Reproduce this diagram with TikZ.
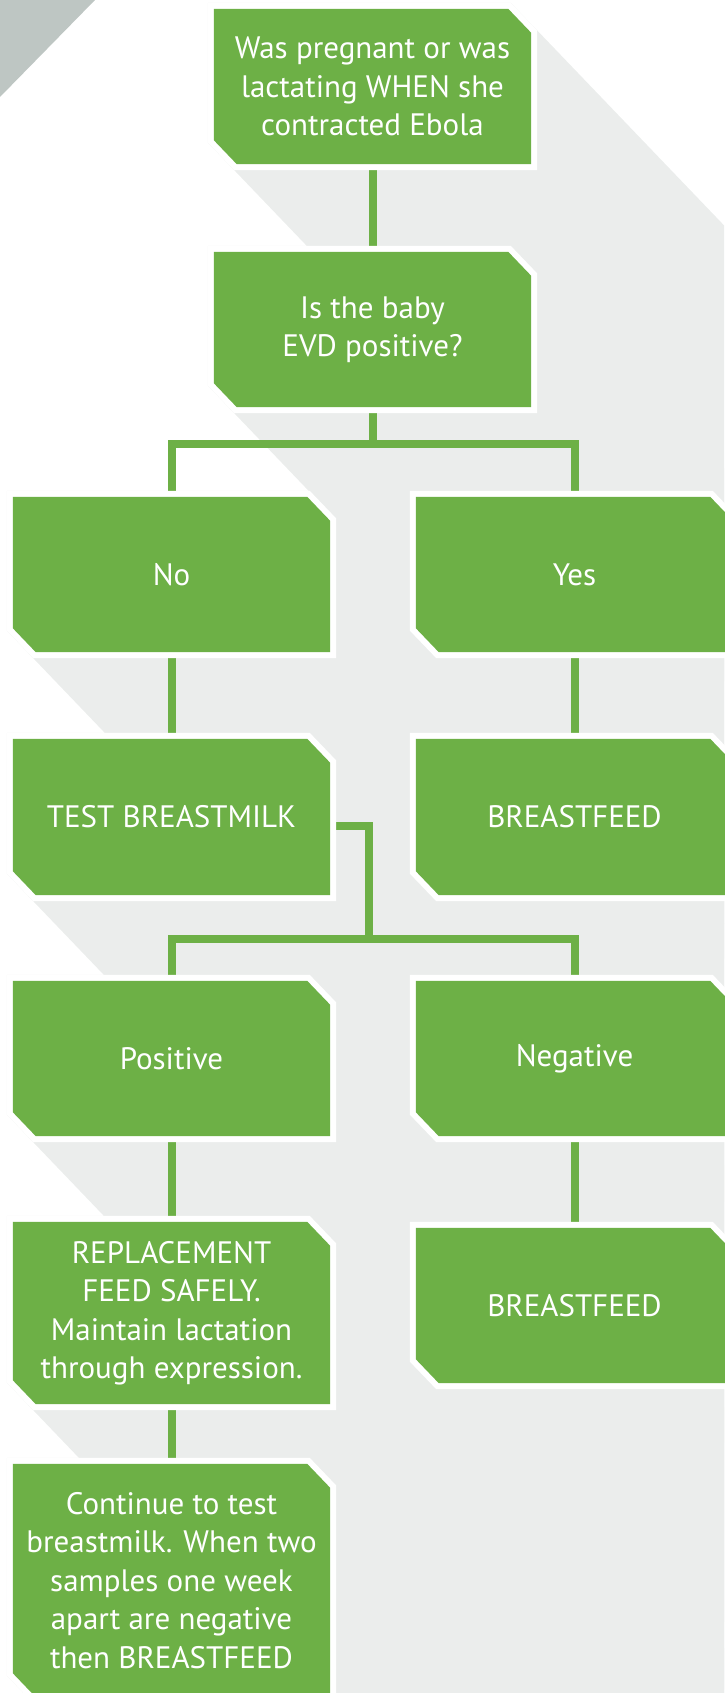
\documentclass[tikz,border=0pt]{standalone}
\usepackage{fontspec}
\setmainfont{PT Sans}
\usetikzlibrary{calc}
\pgfdeclarelayer{background}
\pgfdeclarelayer{lines}
\pgfdeclarelayer{boxes}
\pgfsetlayers{background,lines,boxes,main}
\definecolor{boxgreen}{RGB}{109,176,70}
\definecolor{shadowgray}{RGB}{235,237,236}
\definecolor{cornergray}{RGB}{190,198,195}

\begin{document}
\begin{tikzpicture}[x=1pt,y=-1pt,
  box/.style={minimum width=317pt,minimum height=155pt,inner sep=0pt,align=center,
    text=white,font=\fontsize{31pt}{38.5pt}\selectfont},
  link/.style={boxgreen,line width=8pt}]
\useasboundingbox (0,0) rectangle (724,1693);

\node[box] (Q1) at (372.5,86.5) {Was pregnant or was\\lactating WHEN she\\contracted Ebola};
\node[box] (Q2) at (372.5,329.5) {Is the baby\\EVD positive?};

\node[box] (L1) at (171.5,574.5) {No};
\node[box] (R1) at (574.5,574.5) {Yes};
\node[box,minimum height=156pt] (L2) at (171.5,817) {TEST BREASTMILK};
\node[box,minimum height=156pt] (R2) at (574.5,817) {BREASTFEED};

\node[box] (L3) at (171.5,1058.5) {Positive};
\node[box] (R3) at (574.5,1058.5) {Negative};
\node[box,minimum height=182pt] (L4) at (171.5,1313) {REPLACEMENT\\FEED SAFELY.\\Maintain lactation\\through expression.};
\node[box] (R4) at (574.5,1305.5) {BREASTFEED};
\node[box,minimum height=233pt] (L5) at (171.5,1580.5) {Continue to test\\breastmilk. When two\\samples one week\\apart are negative\\then BREASTFEED};

\coordinate (S1) at (372.5,444);
\coordinate (S2) at (369,939);

% corner mark and long shadows
\begin{pgfonlayer}{background}
\fill[cornergray] (0,0) -- (95,0) -- (0,97) -- cycle;
\end{pgfonlayer}

\foreach \n in {Q1,Q2,L1,R1,L2,R2,L3,R3,L4,R4,L5}{
\begin{pgfonlayer}{background}
\clip (0,0) rectangle (724,1693);
\fill[shadowgray] ($(\n.south west)+(-6,-21.6)$) -- ($(\n.north west)+(-6,-6)$)
  -- ($(\n.north east)+(-20.5,-6)$) -- ($(\n.north east)+(926,981.6)$)
  -- ($(\n.south east)+(926,966)$) -- ($(\n.south west)+(940.5,966)$) -- cycle;
\end{pgfonlayer}
\begin{pgfonlayer}{boxes}
\fill[white] ($(\n.north west)+(-6,-6)$) -- ($(\n.north east)+(-20.5,-6)$)
  -- ($(\n.north east)+(6,21.6)$) -- ($(\n.south east)+(6,6)$)
  -- ($(\n.south west)+(20.5,6)$) -- ($(\n.south west)+(-6,-21.6)$) -- cycle;
\fill[boxgreen] (\n.north west) -- ($(\n.north east)+(-23,0)$)
  -- ($(\n.north east)+(0,24)$) -- (\n.south east)
  -- ($(\n.south west)+(23,0)$) -- ($(\n.south west)+(0,-24)$) -- cycle;
\end{pgfonlayer}
}

% connectors
\begin{pgfonlayer}{lines}
\path[link] (Q1) edge (Q2);
\draw[link] (Q2) -- (S1);
\draw[link] (L1.north) |- (S1) -| (R1.north);

\path[link] (L1) edge (L2);
\path[link] (R1) edge (R2);

\draw[link] ([yshift=-8.5pt]L2.east) -| (S2);
\draw[link] (L3.north) |- (S2) -| (R3.north);

\path[link] (L3) edge (L4);
\path[link] (R3) edge (R4);
\path[link] (L4) edge (L5);
\end{pgfonlayer}

\end{tikzpicture}
\end{document}
